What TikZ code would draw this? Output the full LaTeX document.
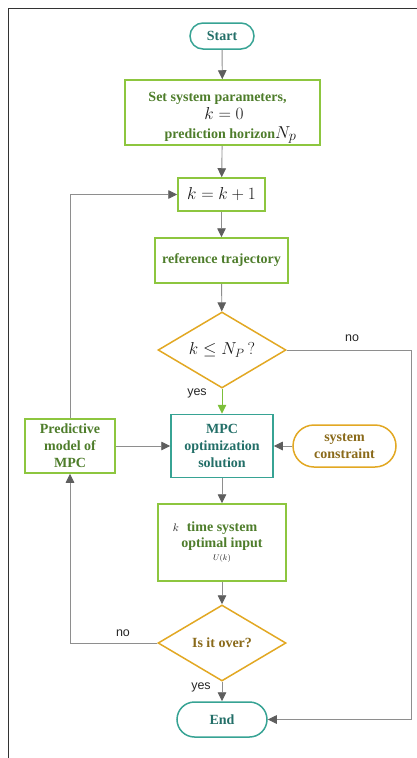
\documentclass[tikz,border=0pt]{standalone}
\usepackage{fontspec}
\setmainfont{Liberation Serif}
\newfontfamily\labelfont{Liberation Sans}
\usetikzlibrary{arrows.meta,shapes.geometric}

\definecolor{procline}{HTML}{8DC63F}
\definecolor{proctext}{HTML}{4E7D2B}
\definecolor{termline}{HTML}{37A394}
\definecolor{termtext}{HTML}{236F68}
\definecolor{decline}{HTML}{E2A823}
\definecolor{dectext}{HTML}{8A6A1A}
\definecolor{wire}{HTML}{8E8E8E}
\definecolor{tipgray}{HTML}{5E5E5E}
\definecolor{yesgreen}{HTML}{7CBF3A}
\definecolor{mathink}{HTML}{1A1A1A}

\newcommand{\mathpart}[2]{{\mdseries\color{mathink}\fontsize{#1}{#1}\selectfont$#2$}}

\tikzset{
  base/.style={font=\fontsize{14}{17}\selectfont\bfseries, align=center, inner sep=0pt, line width=1.5pt},
  procbox/.style={base, draw=procline, text=proctext, fill=white},
  termbox/.style={base, draw=termline, text=termtext, fill=white},
  decbox/.style={base, draw=decline, text=dectext, fill=white, diamond, inner sep=0pt},
  wireline/.style={draw=wire, line width=0.9pt, -{Triangle[length=9pt,width=8.5pt,color=tipgray]}},
  plainwire/.style={draw=wire, line width=0.9pt},
  yeswire/.style={draw=yesgreen, line width=0.9pt, -{Triangle[length=9pt,width=8.5pt,color=yesgreen]}},
  branch/.style={font=\labelfont\fontsize{12.5}{14}\selectfont, text=black!85, inner sep=0pt},
}

\begin{document}
\begin{tikzpicture}[x=1pt,y=-1pt]
  \useasboundingbox (0,0) rectangle (417,758);
  % page frame
  \draw[black!80, line width=1pt] (8.5,758) -- (8.5,8) -- (417,8);

  % nodes
  \node[termbox, minimum width=64pt, minimum height=26pt, rounded corners=13pt] (start) at (222,36) {Start};
  \node[procbox, minimum width=195pt, minimum height=65pt] (set) at (222.5,112.5)
    {\rule{0pt}{20pt}\hspace*{-10pt}Set system parameters,\\[1pt]
     \hspace*{3pt}\mathpart{17}{k=0}\\[2pt]
     \hspace*{16pt}prediction horizon\mathpart{19}{N_p}};
  \node[procbox, minimum width=87pt, minimum height=33pt] (kk) at (221.5,194.5)
    {\mathpart{18}{k=k+1}};
  \node[procbox, minimum width=133pt, minimum height=45pt] (ref) at (221.5,260.5) {reference trajectory};
  \node[decbox, minimum width=128pt, minimum height=76pt, aspect=1.684] (d1) at (222,350)
    {\mathpart{18}{k\le N_P\,?}};
  \node[termbox, rectangle, minimum width=102pt, minimum height=63pt] (mpc) at (222,446)
    {MPC\\optimization\\solution};
  \node[procbox, minimum width=90pt, minimum height=54pt] (pm) at (70,446)
    {Predictive\\model of\\MPC};
  \node[base, draw=decline, text=dectext, fill=white, minimum width=103pt, minimum height=42pt, rounded corners=21pt] (sc) at (344.5,446)
    {system\\constraint};
  \node[procbox, minimum width=128pt, minimum height=77pt] (oi) at (222,542.5)
    {\makebox[0pt][r]{\mathpart{11}{k}\hspace{8pt}}time system\\[-1pt]
     optimal input\\[-4pt]
     \mathpart{8.5}{U(k)}};
  \node[decbox, minimum width=128pt, minimum height=76pt, aspect=1.684] (d2) at (222,643) {Is it over?};
  \node[termbox, minimum width=90pt, minimum height=35pt, rounded corners=17.5pt] (end) at (222,719.5) {End};

  % routing points
  \coordinate (rc) at (411,719.5);

  % connectors
  \draw[wireline] (start) -- (set);
  \draw[wireline] (set) -- (kk);
  \draw[wireline] (kk) -- (ref);
  \draw[wireline] (ref) -- (d1);
  \draw[yeswire] (d1.south) -- (mpc.north);
  \draw[plainwire] (d1.east) -| (rc);
  \draw[wireline] (rc) -- (end.east);
  \draw[wireline] (pm.north) |- (kk.west);
  \draw[wireline] (pm.east) -- (mpc.west);
  \draw[wireline] (sc.west) -- (mpc.east);
  \draw[wireline] (mpc) -- (oi);
  \draw[wireline] (oi) -- (d2);
  \draw[wireline] (d2.west) -| (pm.south);
  \draw[wireline] (d2.south) -- (end.north);

  % branch labels
  \node[branch] (no1) at (352,338) {no};
  \node[branch] (yes1) at (197,393) {yes};
  \node[branch] (no2) at (123,633) {no};
  \node[branch] (yes2) at (201,687) {yes};
\end{tikzpicture}
\end{document}
